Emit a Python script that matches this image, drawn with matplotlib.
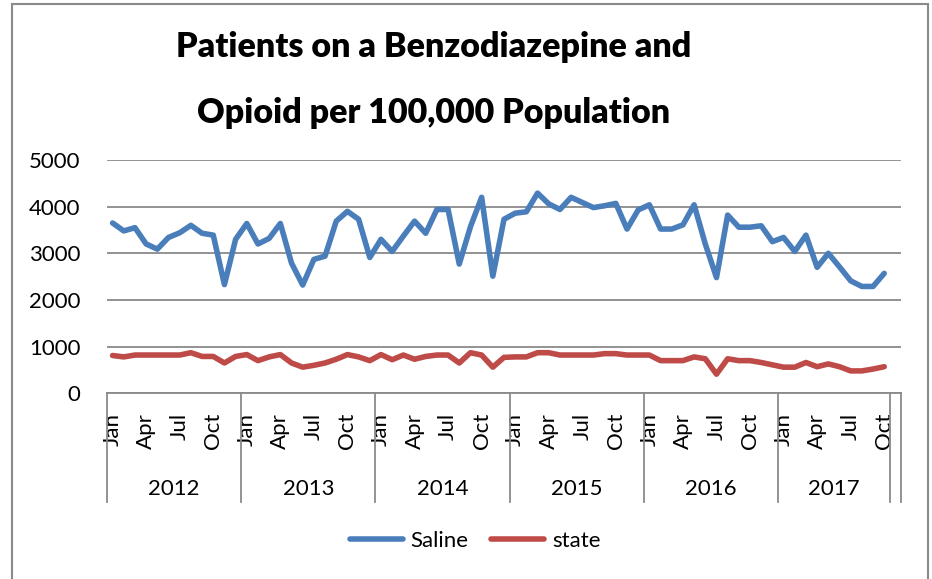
import matplotlib
matplotlib.use("Agg")
import matplotlib.pyplot as plt
from matplotlib.patches import Rectangle

plt.rcParams['font.family'] = ['Lato', 'DejaVu Sans']

years = ["2012", "2013", "2014", "2015", "2016", "2017"]
month_names = ["Jan", "Feb", "Mar", "Apr", "May", "Jun",
               "Jul", "Aug", "Sep", "Oct", "Nov", "Dec"]
months_per_year = [12, 12, 12, 12, 12, 10]

saline = [3650, 3480, 3550, 3200, 3090, 3340, 3440, 3600, 3430, 3390, 2330, 3300,
          3640, 3200, 3320, 3640, 2790, 2320, 2870, 2940, 3690, 3900, 3730, 2910,
          3300, 3040, 3370, 3690, 3430, 3940, 3940, 2770, 3570, 4200, 2510, 3730,
          3860, 3890, 4290, 4060, 3940, 4200, 4090, 3980, 4020, 4070, 3520, 3930,
          4040, 3520, 3520, 3610, 4040, 3200, 2480, 3820, 3560, 3560, 3590, 3250,
          3340, 3040, 3390, 2700, 3000, 2710, 2410, 2290, 2290, 2570]
state = [810, 780, 820, 820, 820, 820, 820, 870, 790, 790, 650, 790,
         830, 700, 780, 830, 650, 560, 600, 650, 730, 830, 780, 700,
         830, 720, 820, 730, 790, 820, 820, 650, 870, 820, 560, 770,
         780, 780, 870, 870, 820, 820, 820, 820, 850, 850, 820, 820,
         820, 700, 700, 700, 780, 740, 410, 740, 700, 700, 660, 610,
         560, 560, 660, 570, 630, 570, 480, 480, 520, 570]

y_ticks = [0, 1000, 2000, 3000, 4000, 5000]

W, H = 932, 579
fig = plt.figure(figsize=(W / 100, H / 100), dpi=100)
ax = fig.add_axes([107 / W, 1 - 393.3 / H, (901 - 107) / W, (393.3 - 160) / H])

n = len(saline)
xs = list(range(n))
ax.plot(xs, saline, color='#4A7EBB', lw=4.0, solid_joinstyle='round',
        solid_capstyle='round', label='Saline', zorder=3)
ax.plot(xs, state, color='#BE4B48', lw=4.0, solid_joinstyle='round',
        solid_capstyle='round', label='state', zorder=3)

# one trailing blank category as in the source chart
ax.set_xlim(-0.5, n + 0.5)
ax.set_ylim(0, 5000)
ax.set_yticks(y_ticks)
ax.set_yticklabels([str(v) for v in y_ticks])
ax.yaxis.grid(True, color='#8a8a8a', lw=1.3)
ax.set_axisbelow(True)
for s in ['left', 'right', 'top']:
    ax.spines[s].set_visible(False)
ax.spines['bottom'].set_color('#8a8a8a')
ax.spines['bottom'].set_linewidth(1.3)
ax.tick_params(axis='y', length=0, pad=19, labelsize=16)

# month labels (every third month)
tick_pos, tick_lab = [], []
start = 0
for yr, cnt in zip(years, months_per_year):
    for m in range(0, cnt, 3):
        tick_pos.append(start + m)
        tick_lab.append(month_names[m])
    start += cnt
ax.set_xticks(tick_pos)
ax.set_xticklabels(tick_lab, rotation=90, va='top', ha='center')
ax.tick_params(axis='x', length=0, pad=14, labelsize=16)

# year group separators and labels
trans = ax.get_xaxis_transform()
bounds = [-0.5]
for cnt in months_per_year:
    bounds.append(bounds[-1] + cnt)
bounds.append(n + 0.5)
for b in bounds:
    ax.plot([b, b], [0, -0.466], transform=trans, color='#8a8a8a', lw=1.3,
            clip_on=False)
for i, yr in enumerate(years):
    ax.text((bounds[i] + bounds[i + 1]) / 2, -0.41, yr, transform=trans,
            ha='center', va='center', fontsize=16)

# title
fig.text(434 / W, 1 - 57 / H, "Patients on a Benzodiazepine and",
         ha='center', va='baseline', fontsize=24.5, fontweight='heavy')
fig.text(434 / W, 1 - 123 / H, "Opioid per 100,000 Population",
         ha='center', va='baseline', fontsize=24.5, fontweight='heavy')

# legend
fig.legend(loc='center', bbox_to_anchor=(475 / W, 1 - 541 / H), ncol=2,
           frameon=False, fontsize=16, handlelength=2.4, handletextpad=0.35,
           columnspacing=1.0)

# outer chart border
fig.patches.append(Rectangle((12 / W, -0.05), (928 - 12) / W, 1 - 4 / H + 0.05,
                             transform=fig.transFigure, fill=False,
                             edgecolor='#8a8a8a', lw=1.5))

fig.savefig('out.png', dpi=100)
